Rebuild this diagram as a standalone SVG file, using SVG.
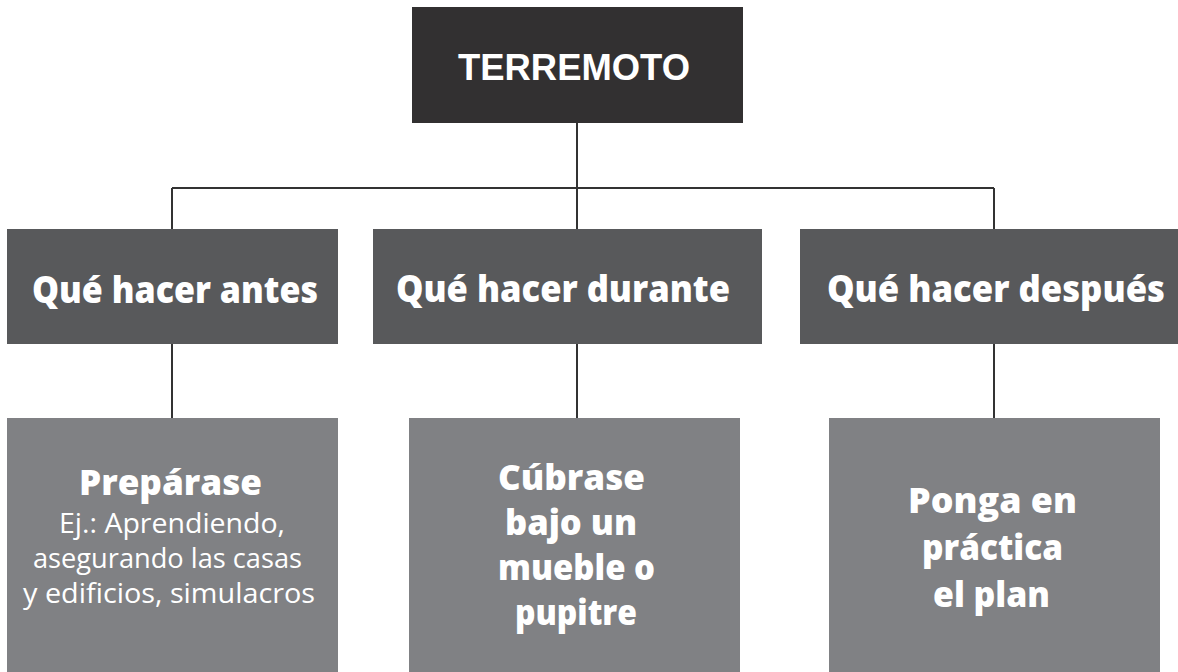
<svg xmlns="http://www.w3.org/2000/svg" width="1178" height="672" viewBox="0 0 1178 672">
<style>
.top{fill:#323031}
.mid{fill:#58595b}
.bot{fill:#808184}
.ln{stroke:#333333;stroke-width:2;fill:none}
.t1{font-family:"Liberation Sans",Arial,sans-serif;font-weight:700;font-size:37px;fill:#fff;text-anchor:middle}
.h{font-family:"Open Sans","Noto Sans",sans-serif;font-weight:800;font-size:37px;fill:#fff;text-anchor:middle}
.b{font-family:"Open Sans","Noto Sans",sans-serif;font-weight:800;font-size:36px;fill:#fff;text-anchor:middle}
.r{font-family:"Open Sans","Noto Sans",sans-serif;font-weight:400;font-size:26.5px;fill:#fff;text-anchor:middle}
</style>
<rect width="1178" height="672" fill="#ffffff"/>
<g id="connectors">
<path class="ln" d="M577 123V229M172 188H994M172 188V229M994 188V229M172 344V418M577 344V418M994 344V418"/>
</g>
<g id="terremoto">
<rect class="top" x="412" y="7" width="331" height="116"/>
<text class="t1" x="574" y="80" textLength="232" lengthAdjust="spacingAndGlyphs">TERREMOTO</text>
</g>
<g id="antes">
<rect class="mid" x="7" y="229" width="331" height="115"/>
<text class="h" x="175" y="303" textLength="286" lengthAdjust="spacingAndGlyphs">Qué hacer antes</text>
</g>
<g id="durante">
<rect class="mid" x="373" y="229" width="389" height="115"/>
<text class="h" x="563" y="302" textLength="334" lengthAdjust="spacingAndGlyphs">Qué hacer durante</text>
</g>
<g id="despues">
<rect class="mid" x="800" y="229" width="378" height="115"/>
<text class="h" x="996" y="302" font-size="34" textLength="338" lengthAdjust="spacingAndGlyphs">Qué hacer después</text>
</g>
<g id="preparase">
<rect class="bot" x="7" y="418" width="331" height="254"/>
<text class="b" x="170.5" y="495" textLength="183" lengthAdjust="spacingAndGlyphs">Prepárase</text>
<text class="r" x="172" y="533" textLength="226" lengthAdjust="spacingAndGlyphs">Ej.: Aprendiendo,</text>
<text class="r" x="167.5" y="568" textLength="269" lengthAdjust="spacingAndGlyphs">asegurando las casas</text>
<text class="r" x="169" y="603" textLength="292" lengthAdjust="spacingAndGlyphs">y edificios, simulacros</text>
</g>
<g id="cubrase">
<rect class="bot" x="409" y="418" width="331" height="254"/>
<text class="b" x="571.5" y="490" textLength="147" lengthAdjust="spacingAndGlyphs">Cúbrase</text>
<text class="b" x="571" y="535" textLength="132" lengthAdjust="spacingAndGlyphs">bajo un</text>
<text class="b" x="576.5" y="580" textLength="157" lengthAdjust="spacingAndGlyphs">mueble o</text>
<text class="b" x="576" y="625" textLength="122" lengthAdjust="spacingAndGlyphs">pupitre</text>
</g>
<g id="ponga">
<rect class="bot" x="829" y="418" width="331" height="254"/>
<text class="b" x="992.5" y="513" textLength="169" lengthAdjust="spacingAndGlyphs">Ponga en</text>
<text class="b" x="992.5" y="560" textLength="141" lengthAdjust="spacingAndGlyphs">práctica</text>
<text class="b" x="991.5" y="607" textLength="117" lengthAdjust="spacingAndGlyphs">el plan</text>
</g>
</svg>
